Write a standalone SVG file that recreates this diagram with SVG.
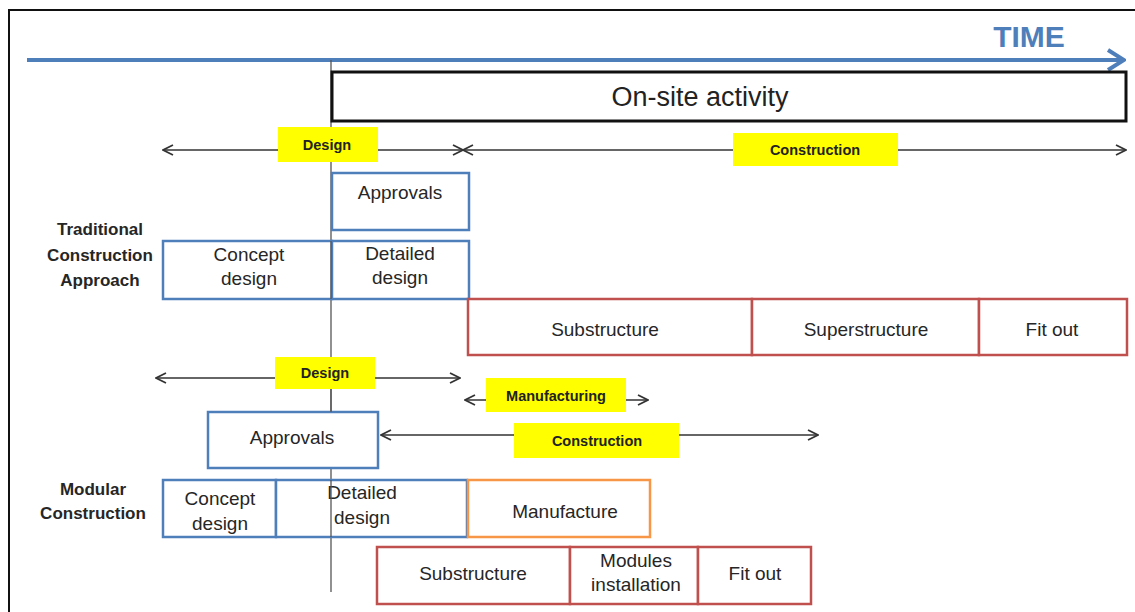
<svg xmlns="http://www.w3.org/2000/svg" width="1135" height="612" viewBox="0 0 1135 612">
<style>
.box{fill:#fff;stroke-width:2.5}
.blue{stroke:#4f7fbb}
.red{stroke:#c0504d}
.orange{stroke:#f79646}
.t{font-family:"Liberation Sans",Arial,sans-serif;font-size:19px;fill:#262626;text-anchor:middle}
.lab{font-family:"Liberation Sans",Arial,sans-serif;font-size:17px;font-weight:bold;fill:#262626;text-anchor:middle}
.yl{fill:#ffff00}
.yt{font-family:"Liberation Sans",Arial,sans-serif;font-size:14.5px;font-weight:bold;fill:#222;text-anchor:middle}
.ar{stroke:#333;stroke-width:1.6;fill:none}
</style>
<defs>
<marker id="ch" viewBox="0 0 12 12" refX="11" refY="6" markerWidth="12" markerHeight="12" markerUnits="userSpaceOnUse" orient="auto-start-reverse">
<path d="M1,1 L11,6 L1,11" fill="none" stroke="#333" stroke-width="1.8"/>
</marker>
<marker id="chb" viewBox="0 0 20 24" refX="18" refY="12" markerWidth="20" markerHeight="24" markerUnits="userSpaceOnUse" orient="auto">
<path d="M2,2 L18,12 L2,22" fill="none" stroke="#4f7fbb" stroke-width="4"/>
</marker>
</defs>
<rect x="0" y="0" width="1135" height="612" fill="#fff"/>
<rect x="9" y="10" width="1150" height="640" fill="none" stroke="#111" stroke-width="2"/>

<g id="connectors">
<line x1="27" y1="60" x2="1124" y2="60" stroke="#4f7fbb" stroke-width="4" marker-end="url(#chb)"/>
<line x1="331" y1="60" x2="331" y2="592" stroke="#555" stroke-width="1.3"/>
<line class="ar" x1="163" y1="150" x2="463" y2="150" marker-start="url(#ch)" marker-end="url(#ch)"/>
<line class="ar" x1="463" y1="150" x2="1126" y2="150" marker-start="url(#ch)" marker-end="url(#ch)"/>
<line class="ar" x1="156" y1="378" x2="460" y2="378" marker-start="url(#ch)" marker-end="url(#ch)"/>
<line class="ar" x1="465" y1="400" x2="648" y2="400" marker-start="url(#ch)" marker-end="url(#ch)"/>
<line class="ar" x1="381" y1="435" x2="818" y2="435" stroke-width="2.2" marker-start="url(#ch)" marker-end="url(#ch)"/>
</g>

<g id="time"><text x="1029" y="47" font-family="Liberation Sans,Arial,sans-serif" font-size="30" font-weight="bold" fill="#4f7fbb" text-anchor="middle">TIME</text></g>

<g id="onsite">
<rect x="332" y="72" width="794" height="49" fill="#fff" stroke="#111" stroke-width="3"/>
<text x="700" y="106" font-family="Liberation Sans,Arial,sans-serif" font-size="27" fill="#222" text-anchor="middle">On-site activity</text>
</g>

<g id="lbl-design1"><rect class="yl" x="278" y="127" width="100" height="35"/><text class="yt" x="327" y="150">Design</text></g>
<g id="lbl-construction1"><rect class="yl" x="733" y="133" width="165" height="33"/><text class="yt" x="815" y="155">Construction</text></g>

<g id="trad-label"><text class="lab" x="100" y="235">Traditional</text><text class="lab" x="100" y="261">Construction</text><text class="lab" x="100" y="286">Approach</text></g>

<g id="trad-approvals"><rect class="box blue" x="332" y="173" width="137" height="57"/><text class="t" x="400" y="199">Approvals</text></g>
<g id="trad-concept"><rect class="box blue" x="163" y="241" width="169" height="58"/><text class="t" x="249" y="261">Concept</text><text class="t" x="249" y="285">design</text></g>
<g id="trad-detailed"><rect class="box blue" x="332" y="241" width="137" height="58"/><text class="t" x="400" y="260">Detailed</text><text class="t" x="400" y="284">design</text></g>
<line x1="331" y1="241" x2="331" y2="299" stroke="#555" stroke-width="1.3"/>

<g id="trad-substructure"><rect class="box red" x="468" y="299" width="284" height="56"/><text class="t" x="605" y="336">Substructure</text></g>
<g id="trad-superstructure"><rect class="box red" x="752" y="299" width="227" height="56"/><text class="t" x="866" y="336">Superstructure</text></g>
<g id="trad-fitout"><rect class="box red" x="979" y="299" width="148" height="56"/><text class="t" x="1052" y="336">Fit out</text></g>

<g id="lbl-design2"><rect class="yl" x="275" y="357" width="100" height="32"/><text class="yt" x="325" y="378">Design</text></g>
<g id="lbl-manufacturing"><rect class="yl" x="486" y="378" width="140" height="34"/><text class="yt" x="556" y="401">Manufacturing</text></g>
<g id="lbl-construction2"><rect class="yl" x="514" y="423" width="165" height="35"/><text class="yt" x="597" y="446">Construction</text></g>

<g id="mod-approvals"><rect class="box blue" x="208" y="412" width="170" height="56"/><text class="t" x="292" y="444">Approvals</text></g>
<line x1="331" y1="389" x2="331" y2="412" stroke="#555" stroke-width="1.3"/>

<g id="mod-label"><text class="lab" x="93" y="495">Modular</text><text class="lab" x="93" y="519">Construction</text></g>

<g id="mod-concept"><rect class="box blue" x="163" y="480" width="113" height="57"/><text class="t" x="220" y="505">Concept</text><text class="t" x="220" y="530">design</text></g>
<g id="mod-detailed"><rect class="box blue" x="276" y="480" width="191" height="57"/><text class="t" x="362" y="499">Detailed</text><text class="t" x="362" y="524">design</text></g>
<line x1="331" y1="480" x2="331" y2="537" stroke="#555" stroke-width="1.3"/>
<g id="mod-manufacture"><rect class="box orange" x="468" y="480" width="182" height="57"/><text class="t" x="565" y="518">Manufacture</text></g>

<g id="mod-substructure"><rect class="box red" x="377" y="547" width="193" height="57"/><text class="t" x="473" y="580">Substructure</text></g>
<g id="mod-modules"><rect class="box red" x="570" y="547" width="128" height="57"/><text class="t" x="636" y="567">Modules</text><text class="t" x="636" y="591">installation</text></g>
<g id="mod-fitout"><rect class="box red" x="698" y="547" width="113" height="57"/><text class="t" x="755" y="580">Fit out</text></g>
</svg>
